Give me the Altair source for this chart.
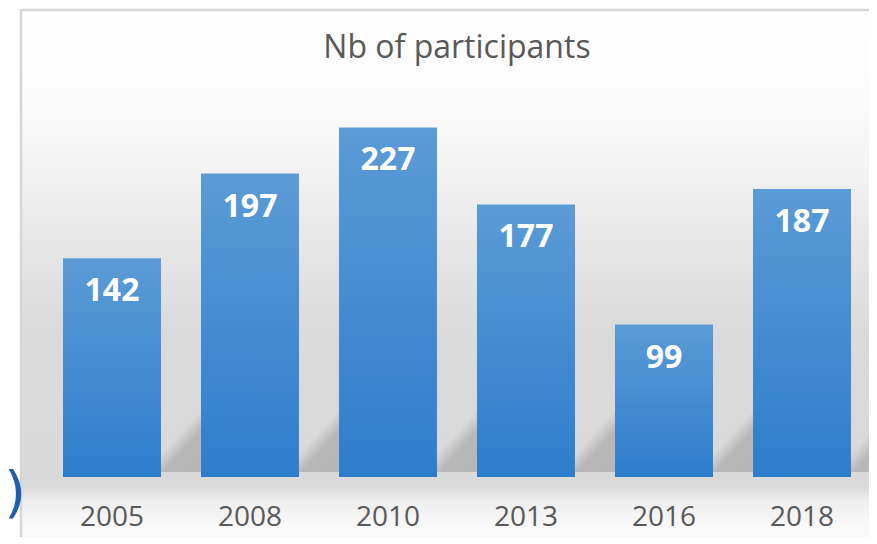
import altair as alt
import pandas as pd

years = ["2005", "2008", "2010", "2013", "2016", "2018"]
participants = [142, 197, 227, 177, 99, 187]
title_text = "Nb of participants"

df = pd.DataFrame({"year": years, "value": participants})
one = pd.DataFrame({"a": [0]})

x_enc = alt.X("year:N", sort=years,
              scale=alt.Scale(paddingInner=0.29, paddingOuter=0),
              axis=alt.Axis(title=None, domain=False, ticks=False, tickSize=0, grid=False,
                            labelAngle=0, labelFontSize=28, labelFont="Open Sans",
                            labelColor="#595959", labelPadding=48,
                            labelBaseline="alphabetic"))
y_enc = alt.Y("value:Q", scale=alt.Scale(domain=[0, 250], nice=False), axis=None)

bg_grad = alt.Gradient(
    gradient="linear", x1=0, x2=0, y1=0, y2=1,
    stops=[
        alt.GradientStop(offset=0.0, color="#ffffff"),
        alt.GradientStop(offset=0.175, color="#fbfbfb"),
        alt.GradientStop(offset=0.268, color="#f4f4f4"),
        alt.GradientStop(offset=0.361, color="#ececec"),
        alt.GradientStop(offset=0.49, color="#e1e1e1"),
        alt.GradientStop(offset=0.584, color="#dadada"),
        alt.GradientStop(offset=0.862, color="#d9d9d9"),
        alt.GradientStop(offset=0.89, color="#eeeeee"),
        alt.GradientStop(offset=0.93, color="#f8f8f8"),
        alt.GradientStop(offset=1.0, color="#fcfcfc"),
    ])

background = alt.Chart(one).mark_rect(
    fill=bg_grad, stroke="#d6d6d6", strokeWidth=2.5
).encode(x=alt.value(-42), x2=alt.value(900), y=alt.value(-82), y2=alt.value(470))

shadow_grad = alt.Gradient(
    gradient="linear", x1=0, y1=0, x2=1.4, y2=1,
    stops=[
        alt.GradientStop(offset=0.0, color="rgba(180,180,180,0)"),
        alt.GradientStop(offset=0.54, color="rgba(180,180,180,0)"),
        alt.GradientStop(offset=0.63, color="rgba(180,180,180,0.9)"),
        alt.GradientStop(offset=1.0, color="#b4b4b4"),
    ])

shadows = alt.Chart(df).mark_rect(fill=shadow_grad, xOffset=40).encode(
    x=x_enc, y=alt.value(303), y2=alt.value(380))

bar_grad = alt.Gradient(
    gradient="linear", x1=0, x2=0, y1=0, y2=1,
    stops=[
        alt.GradientStop(offset=0.0, color="#5b9bd6"),
        alt.GradientStop(offset=1.0, color="#2e7dcc"),
    ])

bars = alt.Chart(df).mark_bar(fill=bar_grad).encode(x=x_enc, y=y_enc)

labels = alt.Chart(df).mark_text(
    font="Open Sans", fontWeight="bold", fontSize=32, color="white",
    baseline="alphabetic", align="center", dy=43
).encode(x=x_enc, y=y_enc, text="value:Q")

title = alt.Chart(one).mark_text(
    text=title_text, font="Open Sans", fontSize=32, color="#595959",
    align="center", baseline="alphabetic"
).encode(x=alt.value(394), y=alt.value(-34))

paren = alt.Chart(one).mark_text(
    text=")", font="DejaVu Sans", fontSize=56, color="#1f5fae",
    align="right", baseline="alphabetic"
).encode(x=alt.value(-37), y=alt.value(419))

chart = alt.layer(background, shadows, bars, labels, title, paren).properties(
    width=788, height=385,
    autosize=alt.AutoSizeParams(type="none"),
    padding={"left": 55, "top": 84, "right": 18, "bottom": 60},
).configure_view(stroke=None)

chart.save("out.html", embed_options={"renderer": "svg", "actions": False})
